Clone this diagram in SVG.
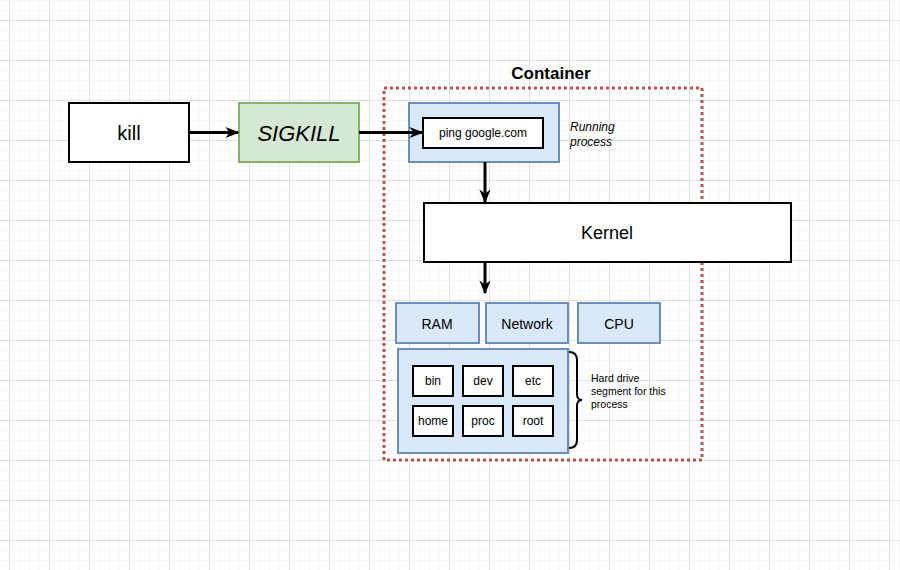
<svg xmlns="http://www.w3.org/2000/svg" width="900" height="570" viewBox="0 0 900 570">
<defs>
<pattern id="minor" width="10" height="10" patternUnits="userSpaceOnUse" x="9" y="0">
<path d="M0 0V10M0 0H10" fill="none" stroke="#f2f2f2" stroke-width="1"/>
</pattern>
<pattern id="major" width="40" height="40" patternUnits="userSpaceOnUse" x="9" y="20">
<path d="M0.5 0V40M0 0.5H40" fill="none" stroke="#e0e0e0" stroke-width="1"/>
</pattern>
<marker id="arr" viewBox="0 0 10 10" refX="9" refY="5" markerWidth="14" markerHeight="14" markerUnits="userSpaceOnUse" orient="auto">
<path d="M0 1L10 5L0 9L3 5Z" fill="#000"/>
</marker>
</defs>
<style>
text{font-family:"Liberation Sans",Arial,sans-serif;fill:#000}
.blk{fill:#fff;stroke:#000;stroke-width:2}
.blue{fill:#dae8fc;stroke:#6c8ebf;stroke-width:2}
.c{text-anchor:middle;dominant-baseline:central}
.conn{stroke:#000;stroke-width:3;fill:none}
</style>
<rect width="900" height="570" fill="#fff"/>
<rect width="900" height="570" fill="url(#minor)"/>
<rect width="900" height="570" fill="url(#major)"/>

<g id="container">
<rect x="384" y="88" width="318" height="372" fill="none" stroke="#b85450" stroke-width="3" stroke-dasharray="3 3"/>
<text x="551" y="73" class="c" font-size="17" font-weight="bold">Container</text>
</g>

<g id="kill">
<rect x="69" y="103" width="120" height="59" class="blk"/>
<text x="129" y="133" class="c" font-size="20">kill</text>
</g>
<g id="sigkill">
<rect x="239" y="103" width="120" height="59" fill="#d5e8d4" stroke="#82b366" stroke-width="2"/>
<text x="299" y="133" class="c" font-size="22" font-style="italic">SIGKILL</text>
</g>
<g id="running-process">
<rect x="409" y="103" width="150" height="59" class="blue"/>
<text x="570" y="131" font-size="12" font-style="italic">Running</text>
<text x="570" y="146" font-size="12" font-style="italic">process</text>
</g>
<g id="ping">
<rect x="423" y="118" width="120" height="30" class="blk"/>
<text x="483" y="133" class="c" font-size="12">ping google.com</text>
</g>
<g id="kernel">
<rect x="424" y="203" width="367" height="59" class="blk"/>
<text x="607" y="233" class="c" font-size="18">Kernel</text>
</g>
<g id="ram">
<rect x="396" y="303" width="83" height="40" class="blue"/>
<text x="437" y="324" class="c" font-size="14">RAM</text>
</g>
<g id="network">
<rect x="486" y="303" width="82" height="40" class="blue"/>
<text x="527" y="324" class="c" font-size="14">Network</text>
</g>
<g id="cpu">
<rect x="578" y="303" width="82" height="40" class="blue"/>
<text x="619" y="324" class="c" font-size="14">CPU</text>
</g>
<g id="hard-drive">
<rect x="398" y="349" width="170" height="104" class="blue"/>
</g>
<g id="bin"><rect x="413" y="366" width="40" height="30" class="blk"/><text x="433" y="381" class="c" font-size="12">bin</text></g>
<g id="dev"><rect x="463" y="366" width="40" height="30" class="blk"/><text x="483" y="381" class="c" font-size="12">dev</text></g>
<g id="etc"><rect x="513" y="366" width="40" height="30" class="blk"/><text x="533" y="381" class="c" font-size="12">etc</text></g>
<g id="home"><rect x="413" y="406" width="40" height="30" class="blk"/><text x="433" y="421" class="c" font-size="12">home</text></g>
<g id="proc"><rect x="463" y="406" width="40" height="30" class="blk"/><text x="483" y="421" class="c" font-size="12">proc</text></g>
<g id="root"><rect x="513" y="406" width="40" height="30" class="blk"/><text x="533" y="421" class="c" font-size="12">root</text></g>
<g id="brace-label">
<path d="M569 352Q577 352 577 360V394Q577 400 582 400Q577 400 577 406V440Q577 448 569 448" fill="none" stroke="#000" stroke-width="2"/>
<text x="591" y="382" font-size="10.5">Hard drive</text>
<text x="591" y="395" font-size="10.5">segment for this</text>
<text x="591" y="408" font-size="10.5">process</text>
</g>

<g id="connectors">
<line x1="189" y1="132.5" x2="238" y2="132.5" class="conn" marker-end="url(#arr)"/>
<line x1="359" y1="132.5" x2="422" y2="132.5" class="conn" marker-end="url(#arr)"/>
<line x1="485" y1="162" x2="485" y2="202" class="conn" marker-end="url(#arr)"/>
<line x1="485" y1="262" x2="485" y2="293" class="conn" marker-end="url(#arr)"/>
</g>
</svg>
